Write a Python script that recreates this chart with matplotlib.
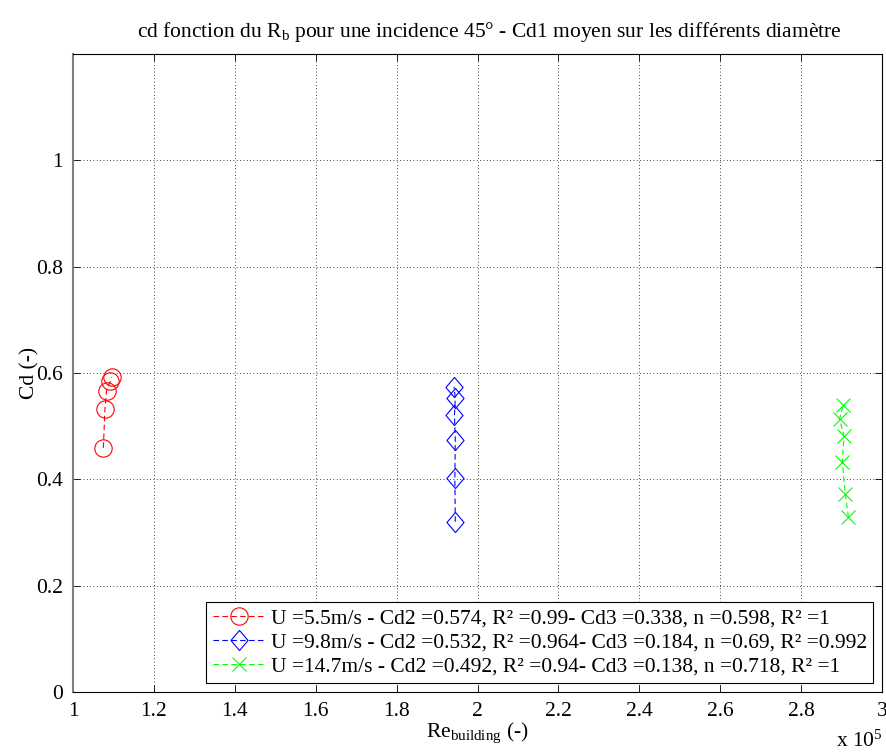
import numpy as np
import matplotlib.pyplot as plt

plt.rcParams['font.family'] = ['Liberation Serif', 'DejaVu Serif']
plt.rcParams['mathtext.fontset'] = 'custom'
plt.rcParams['mathtext.rm'] = 'Liberation Serif'
plt.rcParams['mathtext.it'] = 'Liberation Serif'

# Re (x 10^5) et Cd pour chaque vitesse
re_55 = [1.075, 1.079, 1.083, 1.092, 1.096]
cd_55 = [0.459, 0.533, 0.567, 0.584, 0.592]

re_98 = [1.945, 1.944, 1.945, 1.943, 1.945, 1.942]
cd_98 = [0.320, 0.402, 0.474, 0.521, 0.552, 0.574]

re_147 = [2.917, 2.909, 2.902, 2.906, 2.895, 2.904]
cd_147 = [0.329, 0.373, 0.433, 0.481, 0.514, 0.539]

labels = [
    "U =5.5m/s - Cd2 =0.574, R\u00b2 =0.99- Cd3 =0.338, n =0.598, R\u00b2 =1",
    "U =9.8m/s - Cd2 =0.532, R\u00b2 =0.964- Cd3 =0.184, n =0.69, R\u00b2 =0.992",
    "U =14.7m/s - Cd2 =0.492, R\u00b2 =0.94- Cd3 =0.138, n =0.718, R\u00b2 =1",
]

losange = [(0, 1), (0.85, 0), (0, -1), (-0.85, 0), (0, 1)]
fs = 15.5

fig = plt.figure(figsize=(8.86, 7.56), dpi=100)
ax = fig.add_axes([0.0824, 0.0847, 0.9131, 0.8439])

ax.plot(re_55, cd_55, '--', marker='o', color=(1, 0, 0), mfc='none', ms=12.5, lw=0.8, mew=0.8,
        dashes=(5, 3), label=labels[0])
ax.plot(re_98, cd_98, '--', marker=losange, color=(0, 0, 1), mfc='none', ms=14.5, lw=0.8, mew=0.8,
        dashes=(5, 3), label=labels[1])
ax.plot(re_147, cd_147, '--', marker='x', color=(0, 1, 0), ms=10, lw=0.8, mew=0.8,
        dashes=(5, 3), label=labels[2])

ax.set_xlim(1, 3)
ax.set_ylim(0, 1.2)
ax.set_xticks(np.arange(1, 3.01, 0.2))
ax.set_xticklabels(["1", "1.2", "1.4", "1.6", "1.8", "2", "2.2", "2.4", "2.6", "2.8", "3"])
ax.set_yticks([0, 0.2, 0.4, 0.6, 0.8, 1])
ax.set_yticklabels(["0", "0.2", "0.4", "0.6", "0.8", "1"])
ax.tick_params(direction='in', top=True, right=True, labelsize=fs, length=5, width=0.6, pad=7)
ax.grid(True, linestyle=(0, (1, 3)), color='black', linewidth=0.6)
for s in ax.spines.values():
    s.set_linewidth(0.8)
ax.spines['left'].set_color('#808080')
ax.spines['left'].set_linewidth(1.5)

ax.set_title("cd fonction du R$_\\mathrm{b}$ pour une incidence 45\u00b0 - Cd1 moyen sur les diff\u00e9rents diam\u00e8tre",
             fontsize=fs, pad=12, x=0.515)
ax.set_xlabel("Re$_\\mathrm{building}$ (-)", fontsize=fs, labelpad=0)
ax.set_ylabel("Cd (-)", fontsize=fs, labelpad=-2)
fig.text(0.996, 0.005, "x 10$^\\mathrm{5}$", fontsize=fs, ha='right', va='bottom')

leg = ax.legend(loc='lower right', fontsize=fs, handlelength=2.4, borderpad=0.3,
                labelspacing=0.2, handletextpad=0.3, fancybox=False, framealpha=1,
                borderaxespad=0.4)
leg.get_frame().set_edgecolor('black')
leg.get_frame().set_linewidth(0.8)

plt.savefig("out.png", dpi=100)
